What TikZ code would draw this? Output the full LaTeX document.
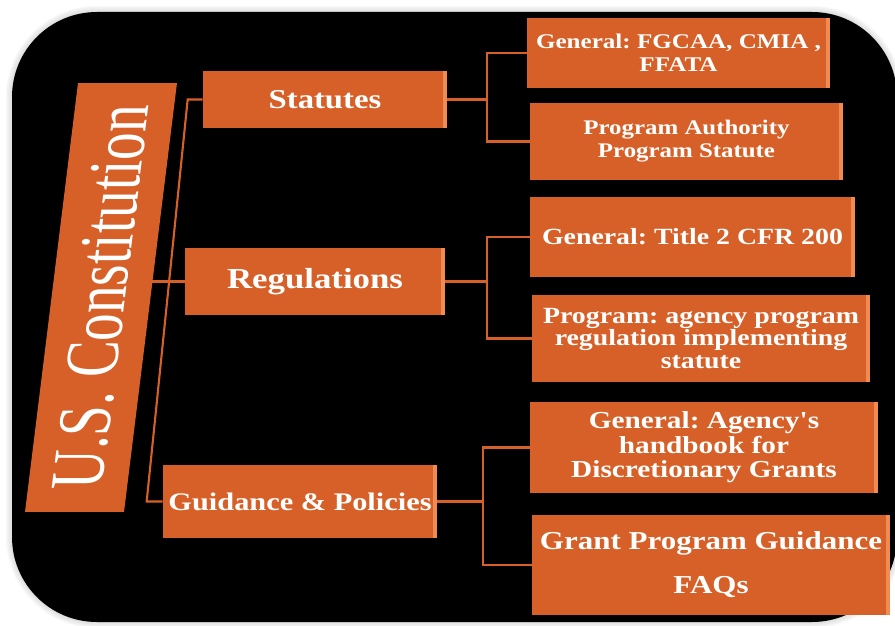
\documentclass[tikz,border=0pt]{standalone}
\usepackage{fontspec}
\usepackage{tikz}

\newfontfamily\boxfont{Liberation Serif}[FakeStretch=1.2]
\newfontfamily\capfont{Liberation Serif}[FakeStretch=0.73]
\frenchspacing

\definecolor{boxorange}{RGB}{214,96,39}
\definecolor{edgeorange}{RGB}{240,140,82}

\tikzset{
  box/.style={fill=boxorange, text=white, align=center, inner sep=0pt,
    path picture={\fill[edgeorange] ([xshift=-2.5pt]path picture bounding box.north east)
      rectangle (path picture bounding box.south east);}},
  bsize/.style 2 args={font=\boxfont\bfseries\fontsize{#1}{#2}\selectfont},
  link/.style={draw=boxorange, line width=1.2pt}
}

\begin{document}
\begin{tikzpicture}[x=0.02cm,y=-0.02cm]
\useasboundingbox (0,0) rectangle (895,625);

% black panel with a soft grey rim
\foreach \i in {1,...,5}
  \draw[black!45, opacity=0.06, line width=\i*1.4pt, rounded corners=1.7cm] (12,12) rectangle (897,622);
\fill[black, rounded corners=1.7cm] (12,12) rectangle (897,622);

% leaning title bar
\begin{scope}[shift={(101,297.5)}, xslant=0.1235]
\node[fill=boxorange, text=white, rotate=90, transform shape, inner sep=0pt,
      minimum width=8.58cm, minimum height=1.98cm,
      font=\capfont\fontsize{43}{46}\selectfont] (con) at (0,0) {U.S. Constitution};
\end{scope}

\node[box, bsize={15.5}{18}, minimum width=4.88cm, minimum height=1.14cm] (stat) at (325,99.5) {Statutes};
\node[box, bsize={16.5}{19}, minimum width=5.2cm, minimum height=1.34cm] (reg) at (315,281.5) {Regulations};
\node[box, bsize={14.4}{17}, minimum width=5.48cm, minimum height=1.46cm] (guid) at (300,501.5) {Guidance \& Policies};

\node[box, bsize={11.9}{13}, minimum width=6.06cm, minimum height=1.4cm] (gen1) at (678.5,53) {General: FGCAA, CMIA ,\\FFATA};
\node[box, bsize={11.8}{13}, minimum width=6.26cm, minimum height=1.54cm] (auth) at (686.5,141.5) {Program Authority\\Program Statute};
\node[box, bsize={13.2}{15}, minimum width=6.5cm, minimum height=1.6cm] (gen2) at (692.5,237) {General: Title 2 CFR 200};
\node[box, bsize={13.2}{13}, minimum width=6.76cm, minimum height=1.74cm] (prog) at (701,338.5) {Program: agency program\\regulation implementing\\statute};
\node[box, bsize={13.9}{14}, minimum width=6.96cm, minimum height=1.82cm] (gen3) at (704,447.5) {General: Agency's\\handbook for\\Discretionary Grants};
\node[box, bsize={14.7}{25}, minimum width=7.16cm, minimum height=2cm] (faq) at (711,565) {Grant Program Guidance\\FAQs};

% left bus
\draw[link] (stat.west) -- ++(-15,0) -- ([xshift=-0.32cm]guid.west) -- (guid.west);
\draw[link] (con.south |- reg.west) -- (reg.west);

% right buses
\draw[link] (stat.east) -- ++(40,0) coordinate (sb);
\draw[link] (gen1.west) -| (sb) |- (auth.west);
\draw[link] (reg.east) -- ++(42,0) coordinate (rb);
\draw[link] (gen2.west) -| (rb) |- (prog.west);
\draw[link] (guid.east) -- ++(46,0) coordinate (gb);
\draw[link] (gen3.west) -| (gb) |- (faq.west);
\end{tikzpicture}
\end{document}
